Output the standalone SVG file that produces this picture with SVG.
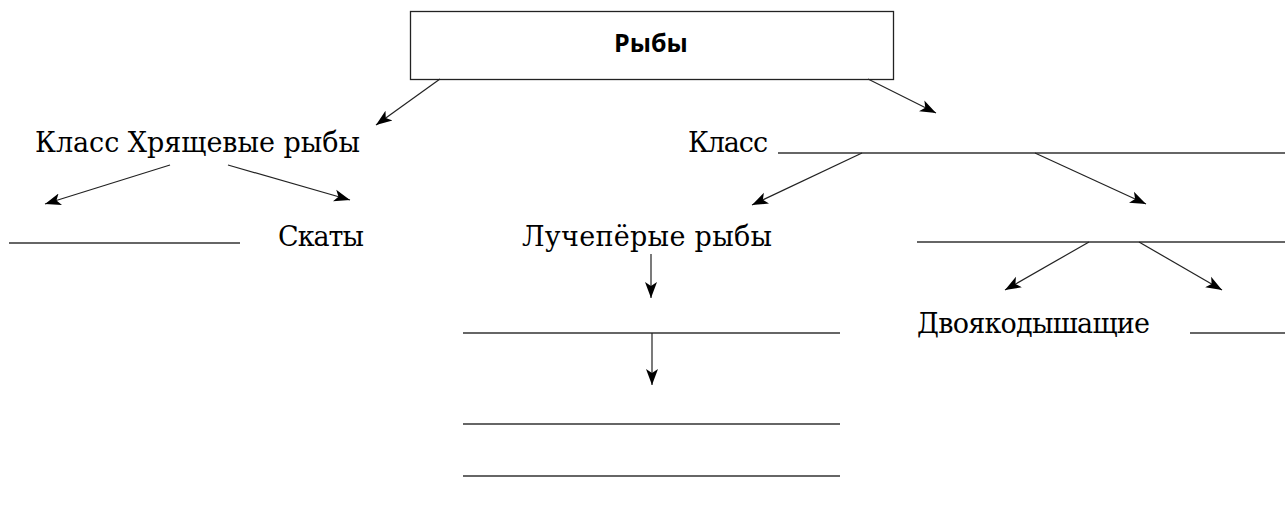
<svg xmlns="http://www.w3.org/2000/svg" width="1285" height="527" viewBox="0 0 1285 527">
<style>
.t{font-family:"DejaVu Serif","Liberation Serif",serif;font-size:27px;fill:#000}
.h{font-family:"Open Sans","Noto Sans",sans-serif;font-weight:bold;font-size:25px;fill:#000}
.c line{stroke:#222;stroke-width:1.2}
.a{marker-end:url(#ar)}
.u{stroke:#333;stroke-width:1.3}
</style>
<defs>
<marker id="ar" markerWidth="18" markerHeight="14" refX="16" refY="7" orient="auto" markerUnits="userSpaceOnUse">
<path d="M0,1 L16,7 L0,13 L4,7 Z" fill="#000"/>
</marker>
</defs>
<g id="root">
<rect x="410.5" y="11.5" width="483" height="68" fill="#fff" stroke="#222" stroke-width="1.3"/>
<text class="h" x="651" y="52" text-anchor="middle">Рыбы</text>
</g>
<g id="n-hrash"><text class="t" x="35" y="152" textLength="325">Класс Хрящевые рыбы</text></g>
<g id="n-blank1"><line class="u" x1="9" y1="243" x2="240" y2="243"/></g>
<g id="n-skaty"><text class="t" x="278" y="246" textLength="86">Скаты</text></g>
<g id="n-klass"><text class="t" x="688" y="152" textLength="80">Класс</text><line class="u" x1="778" y1="153" x2="1285" y2="153"/></g>
<g id="n-luch"><text class="t" x="522" y="246" textLength="250">Лучепёрые рыбы</text></g>
<g id="n-blank2"><line class="u" x1="463" y1="333" x2="840" y2="333"/></g>
<g id="n-blank3"><line class="u" x1="463" y1="424" x2="840" y2="424"/></g>
<g id="n-blank4"><line class="u" x1="463" y1="476" x2="840" y2="476"/></g>
<g id="n-blank5"><line class="u" x1="917" y1="242" x2="1285" y2="242"/></g>
<g id="n-dvoy"><text class="t" x="917" y="333" textLength="233">Двоякодышащие</text></g>
<g id="n-blank6"><line class="u" x1="1190" y1="333" x2="1285" y2="333"/></g>
<g id="connectors" class="c">
<line class="a" x1="440" y1="79" x2="376" y2="125"/>
<line class="a" x1="868" y1="79" x2="936" y2="113"/>
<line class="a" x1="170" y1="165" x2="45" y2="204"/>
<line class="a" x1="228" y1="165" x2="350" y2="200"/>
<line class="a" x1="862" y1="153" x2="752" y2="205"/>
<line class="a" x1="1035" y1="153" x2="1146" y2="204"/>
<line class="a" x1="651" y1="254" x2="651" y2="298"/>
<line class="a" x1="652" y1="333" x2="652" y2="385"/>
<line class="a" x1="1089" y1="242" x2="1005" y2="290"/>
<line class="a" x1="1139" y1="242" x2="1222" y2="290"/>
</g>
</svg>
